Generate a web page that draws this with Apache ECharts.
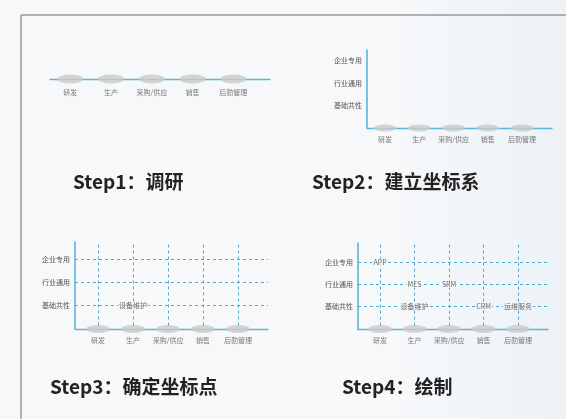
<!DOCTYPE html>
<html><head><meta charset="utf-8">
<script src="https://cdn.jsdelivr.net/npm/echarts@6/dist/echarts.min.js"></script>
<style>html,body{margin:0;padding:0;background:#fff}#c{width:566px;height:419px}</style>
</head><body><div id="c"></div>
<script>
// ---- data ----
const categories = ['研发', '生产', '采购/供应', '销售', '后勤管理'];
const levels = ['基础共性', '行业通用', '企业专用'];
const step3Points = [['生产', '基础共性', '设备维护']];
const step4Points = [
  ['研发', '企业专用', 'APP'],
  ['生产', '行业通用', 'MES'],
  ['采购/供应', '行业通用', 'SRM'],
  ['生产', '基础共性', '设备维护'],
  ['销售', '基础共性', 'CRM'],
  ['后勤管理', '基础共性', '运维服务']
];
const titles = ['Step1：调研', 'Step2：建立坐标系', 'Step3：确定坐标点', 'Step4：绘制'];

// ---- layout ----
const BG = '#f7f8fa';
const AXIS = '#5ab6dc';
const DASH = '#4ea9cf';
const FONT = '"Noto Sans CJK SC", "Noto Sans", sans-serif';
const panels = [
  { grid: { left: 50, width: 220, top: 40, height: 39 }, xMin: 0.5, xMax: 5.9, yMin: 0, yMax: 1, showY: false, points: null, cloud: [26, 9], lab: 5 },
  { grid: { left: 367, width: 185, top: 50, height: 78 }, xMin: 0.47, xMax: 5.88, yMin: 0, yMax: 3.47, showY: true, points: null, cloud: [23, 7], lab: 4 },
  { grid: { left: 75, width: 193, top: 242, height: 87 }, xMin: 0.34, xMax: 5.86, yMin: 0, yMax: 3.73, showY: true, points: step3Points, cloud: [24, 8], lab: 4 },
  { grid: { left: 358, width: 190, top: 243, height: 86 }, xMin: 0.36, xMax: 5.87, yMin: 0, yMax: 3.85, showY: true, points: step4Points, cloud: [24, 8], lab: 4 }
];
const titlePos = [[73, 183], [312, 183], [50, 388], [342, 388]];

const grids = [], xAxes = [], yAxes = [], series = [];
panels.forEach((p, k) => {
  grids.push(p.grid);
  xAxes.push({
    type: 'value', gridIndex: k, min: p.xMin, max: p.xMax,
    axisLine: { show: true, onZero: false, lineStyle: { color: AXIS, width: 1.3 } },
    axisTick: { show: false }, axisLabel: { show: false }, splitLine: { show: false }
  });
  yAxes.push({
    type: 'value', gridIndex: k, min: p.yMin, max: p.yMax, interval: 1,
    axisLine: { show: p.showY, lineStyle: { color: AXIS, width: 1.6 } },
    axisTick: { show: false }, splitLine: { show: false },
    axisLabel: {
      show: p.showY, fontSize: 7, color: '#555', fontFamily: FONT, margin: 5,
      formatter: v => levels[v - 1] || ''
    }
  });
  series.push({
    type: 'scatter', xAxisIndex: k, yAxisIndex: k, symbol: 'circle', symbolSize: p.cloud,
    itemStyle: { color: '#cbcbcb' }, z: 3, silent: true,
    data: categories.map((c, i) => [i + 1, 0, c]),
    label: { show: true, position: 'bottom', distance: p.lab, fontSize: 7, color: '#555', fontFamily: FONT,
      formatter: q => q.data[2] }
  });
  if (p.points) {
    series.push({
      type: 'scatter', xAxisIndex: k, yAxisIndex: k, symbolSize: 1, itemStyle: { color: 'rgba(0,0,0,0)' }, z: 5, silent: true,
      data: p.points.map(d => [categories.indexOf(d[0]) + 1, levels.indexOf(d[1]) + 1, d[2]]),
      label: { show: true, position: 'inside', fontSize: 7, color: '#444', fontFamily: FONT,
        backgroundColor: BG, padding: [0, 1], formatter: q => q.data[2] },
      markLine: {
        silent: true, symbol: 'none', label: { show: false }, animation: false,
        lineStyle: { type: [3, 3], color: DASH, width: 1 },
        data: categories.map((c, i) => [{ coord: [i + 1, 0.15] }, { coord: [i + 1, p.yMax] }])
          .concat(levels.map((l, i) => ({ yAxis: i + 1 })))
      }
    });
  }
});

const graphics = [
  { type: 'line', shape: { x1: 21, y1: 15, x2: 21, y2: 419 }, style: { stroke: '#9a9a9a', lineWidth: 1.5 }, z: 10 },
  { type: 'line', shape: { x1: 21, y1: 15, x2: 566, y2: 15 }, style: { stroke: '#9a9a9a', lineWidth: 1.5 }, z: 10 }
];
titles.forEach((t, i) => graphics.push({
  type: 'text', left: titlePos[i][0], top: titlePos[i][1] - 11, z: 10,
  style: { text: t, fill: '#222', font: 'bold 19px ' + FONT }
}));

const chart = echarts.init(document.getElementById('c'));
chart.setOption({
  animation: false,
  backgroundColor: new echarts.graphic.LinearGradient(0, 0, 1, 0, [
    { offset: 0, color: '#f8f8f9' }, { offset: 0.7, color: '#f6f8fa' }, { offset: 1, color: '#edf2f7' }
  ]),
  grid: grids, xAxis: xAxes, yAxis: yAxes, series: series, graphic: graphics
});
</script></body></html>
